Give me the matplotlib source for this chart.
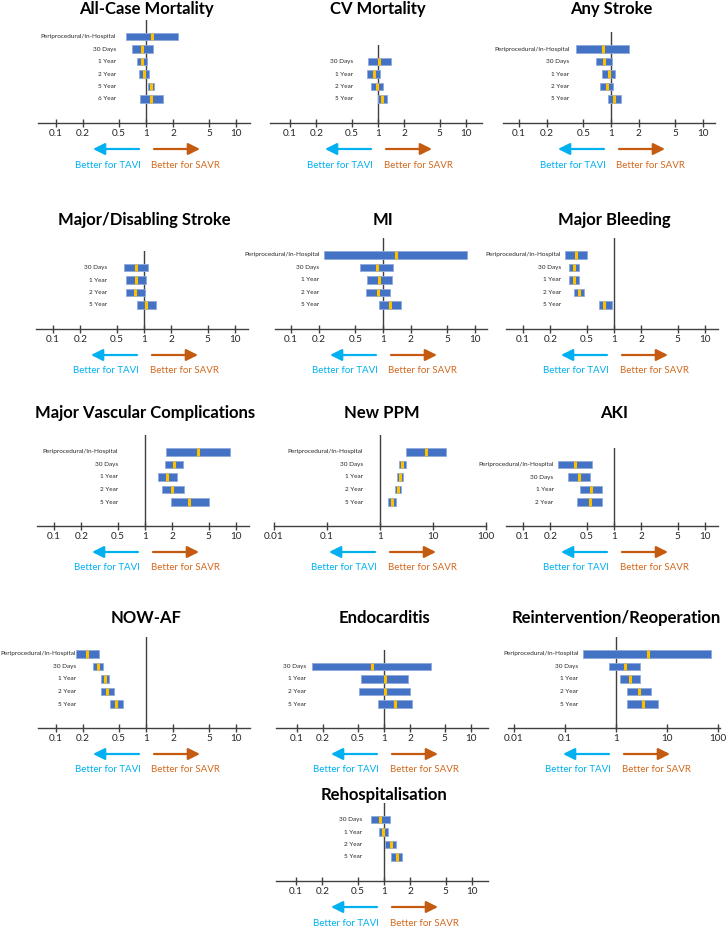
import matplotlib
matplotlib.use('Agg')
import matplotlib.pyplot as plt
from matplotlib.ticker import NullLocator

plt.rcParams['font.family'] = ['Lato', 'DejaVu Sans']

# row labels
rows6 = ['Periprocedural/In-Hospital', '30 Days', '1 Year', '2 Year', '5 Year', '6 Year']
rows5 = ['Periprocedural/In-Hospital', '30 Days', '1 Year', '2 Year', '5 Year']
rows4 = ['30 Days', '1 Year', '2 Year', '5 Year']
rows4p = ['Periprocedural/In-Hospital', '30 Days', '1 Year', '2 Year']

# hazard / risk ratios (estimate, lower, upper)
acm_est = [1.16, 0.91, 0.91, 0.95, 1.13, 1.15]
acm_lo = [0.60, 0.70, 0.79, 0.84, 1.05, 0.85]
acm_hi = [2.25, 1.19, 1.02, 1.07, 1.22, 1.53]

cvm_est = [1.04, 0.91, 0.97, 1.12]
cvm_lo = [0.77, 0.75, 0.84, 1.00]
cvm_hi = [1.39, 1.06, 1.13, 1.25]

str_est = [0.82, 0.83, 0.94, 0.90, 1.09]
str_lo = [0.42, 0.68, 0.79, 0.75, 0.92]
str_hi = [1.58, 1.03, 1.10, 1.05, 1.28]

mds_est = [0.82, 0.82, 0.80, 1.06]
mds_lo = [0.61, 0.64, 0.63, 0.83]
mds_hi = [1.12, 1.04, 1.03, 1.36]

mi_est = [1.38, 0.85, 0.91, 0.89, 1.19]
mi_lo = [0.23, 0.56, 0.67, 0.65, 0.90]
mi_hi = [8.25, 1.30, 1.24, 1.20, 1.56]

mb_est = [0.38, 0.36, 0.36, 0.41, 0.78]
mb_lo = [0.29, 0.32, 0.32, 0.36, 0.68]
mb_hi = [0.51, 0.41, 0.41, 0.47, 0.94]

mvc_est = [3.85, 2.08, 1.76, 1.99, 3.04]
mvc_lo = [1.69, 1.66, 1.39, 1.54, 1.93]
mvc_hi = [8.66, 2.61, 2.23, 2.66, 5.04]

ppm_est = [7.45, 2.65, 2.37, 2.21, 1.69]
ppm_lo = [3.14, 2.27, 2.05, 1.89, 1.42]
ppm_hi = [17.3, 3.14, 2.72, 2.54, 2.03]

aki_est = [0.37, 0.41, 0.56, 0.54]
aki_lo = [0.24, 0.31, 0.42, 0.39]
aki_hi = [0.58, 0.55, 0.74, 0.73]

af_est = [0.22, 0.29, 0.35, 0.37, 0.47]
af_lo = [0.167, 0.26, 0.32, 0.32, 0.40]
af_hi = [0.30, 0.33, 0.39, 0.44, 0.55]

endo_est = [0.72, 1.02, 1.02, 1.34]
endo_lo = [0.15, 0.55, 0.52, 0.86]
endo_hi = [3.43, 1.87, 1.99, 2.09]

reop_est = [4.2, 1.47, 1.86, 2.81, 3.4]
reop_lo = [0.23, 0.74, 1.18, 1.65, 1.68]
reop_hi = [74.0, 2.94, 2.94, 4.85, 6.8]

rehosp_est = [0.90, 0.97, 1.20, 1.40]
rehosp_lo = [0.71, 0.88, 1.02, 1.20]
rehosp_hi = [1.17, 1.12, 1.37, 1.60]

ticks10 = [0.1, 0.2, 0.5, 1, 2, 5, 10]
ticks10_lab = ['0.1', '0.2', '0.5', '1', '2', '5', '10']
ticks100 = [0.01, 0.1, 1, 10, 100]
ticks100_lab = ['0.01', '0.1', '1', '10', '100']

W, H = 726, 950
fig = plt.figure(figsize=(W / 100, H / 100), dpi=100)

axis_rows = [123, 329, 526, 728, 881]
title_rows = [9, 220, 413, 618, 795]

BAR = '#4472C4'
MARK = '#FFC000'
TAVI = '#00B0F0'
SAVR = '#C55A11'
LINE = '#404040'


def panel(title, rows, est, lo, hi, grow, x1, dec, gap, ticks, tlabs):
    n = len(rows)
    sp = 12.5
    axis_y = axis_rows[grow]
    first = axis_y - 24 - (n - 1) * sp
    top = first - 17
    left, right = x1 - 108, x1 + 104
    ax = fig.add_axes([left / W, 1 - axis_y / H, (right - left) / W, (axis_y - top) / H])
    ax.set_xscale('log')
    ax.set_xlim(10 ** ((left - x1) / dec), 10 ** ((right - x1) / dec))
    ax.set_ylim(n - 1 + 24 / sp, -17 / sp)
    ax.patch.set_alpha(0)

    ys = list(range(n))
    widths = [h - l for l, h in zip(lo, hi)]
    ax.barh(ys, widths, left=lo, height=0.58, color=BAR, edgecolor='#8FAADC', linewidth=0.6, zorder=3)
    ax.vlines(est, [y - 0.29 for y in ys], [y + 0.29 for y in ys], color=MARK, lw=2.2, zorder=4)
    ax.axvline(1, color=LINE, lw=1.0, zorder=2)

    for y, lab in zip(ys, rows):
        ax.annotate(lab, xy=(min(lo), y), xytext=(-gap, 0), textcoords='offset pixels',
                    ha='right', va='center', fontsize=4.6,
                    family=['Liberation Sans Narrow', 'Lato', 'DejaVu Sans'], color='#262626')

    for s in ['left', 'right', 'top']:
        ax.spines[s].set_visible(False)
    ax.spines['bottom'].set_color(LINE)
    ax.spines['bottom'].set_linewidth(1.0)
    ax.set_yticks([])
    ax.set_xticks(ticks)
    ax.set_xticklabels(tlabs)
    ax.xaxis.set_minor_locator(NullLocator())
    ax.tick_params(axis='x', direction='inout', length=6, width=1, color=LINE,
                   pad=1.5, labelsize=7.2, labelcolor='#262626')

    fig.text(x1 / W, 1 - title_rows[grow] / H, title, ha='center', va='center',
             fontsize=12, fontweight='bold', color='black')

    ay = H - (axis_y + 26)
    ax.annotate('', xy=(x1 - 53, ay), xytext=(x1 - 7, ay), xycoords='figure pixels',
                textcoords='figure pixels', annotation_clip=False,
                arrowprops=dict(arrowstyle='-|>,head_length=0.7,head_width=0.35', color=TAVI,
                                lw=1.6, mutation_scale=10, shrinkA=0, shrinkB=0))
    ax.annotate('', xy=(x1 + 54, ay), xytext=(x1 + 8, ay), xycoords='figure pixels',
                textcoords='figure pixels', annotation_clip=False,
                arrowprops=dict(arrowstyle='-|>,head_length=0.7,head_width=0.35', color=SAVR,
                                lw=1.6, mutation_scale=10, shrinkA=0, shrinkB=0))
    ty = 1 - (axis_y + 42) / H
    fig.text((x1 - 38) / W, ty, 'Better for TAVI', ha='center', va='center', fontsize=7, color=TAVI)
    fig.text((x1 + 40) / W, ty, 'Better for SAVR', ha='center', va='center', fontsize=7, color='#D2691E')


panel('All-Case Mortality', rows6, acm_est, acm_lo, acm_hi, 0, 146, 90, 10, ticks10, ticks10_lab)
panel('CV Mortality', rows4, cvm_est, cvm_lo, cvm_hi, 0, 378, 88, 14, ticks10, ticks10_lab)
panel('Any Stroke', rows5, str_est, str_lo, str_hi, 0, 611, 92, 7, ticks10, ticks10_lab)
panel('Major/Disabling Stroke', rows4, mds_est, mds_lo, mds_hi, 1, 144, 91, 17, ticks10, ticks10_lab)
panel('MI', rows5, mi_est, mi_lo, mi_hi, 1, 383, 92, 5, ticks10, ticks10_lab)
panel('Major Bleeding', rows5, mb_est, mb_lo, mb_hi, 1, 614, 91, 4, ticks10, ticks10_lab)
panel('Major Vascular Complications', rows5, mvc_est, mvc_lo, mvc_hi, 2, 145, 91, 40, ticks10, ticks10_lab)
panel('New PPM', rows5, ppm_est, ppm_lo, ppm_hi, 2, 382, 54, 25, ticks100, ticks100_lab)
panel('AKI', rows4p, aki_est, aki_lo, aki_hi, 2, 614, 91, 4, ticks10, ticks10_lab)
panel('NOW-AF', rows5, af_est, af_lo, af_hi, 3, 146, 90, 0, ticks10, ticks10_lab)
panel('Endocarditis', rows4, endo_est, endo_lo, endo_hi, 3, 384, 87, 6, ticks10, ticks10_lab)
panel('Reintervention/Reoperation', rows5, reop_est, reop_lo, reop_hi, 3, 616, 51, 5, ticks100, ticks100_lab)
panel('Rehospitalisation', rows4, rehosp_est, rehosp_lo, rehosp_hi, 4, 384, 88, 9, ticks10, ticks10_lab)

fig.savefig('out.png', dpi=100)
